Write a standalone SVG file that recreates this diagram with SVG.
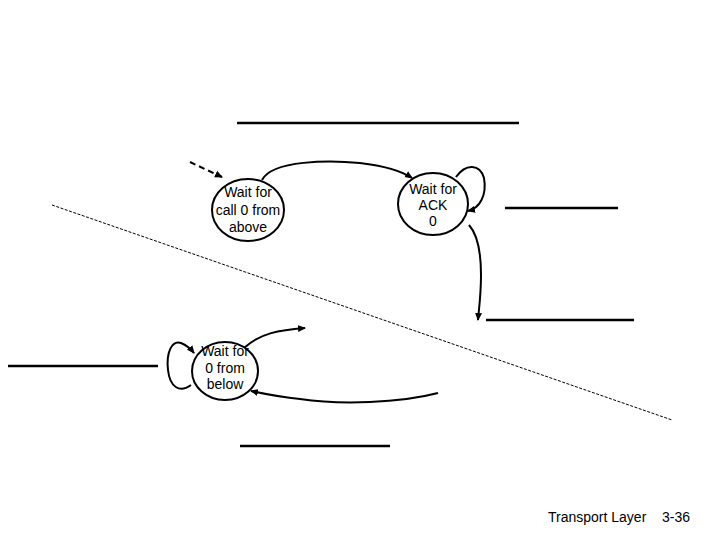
<svg xmlns="http://www.w3.org/2000/svg" width="720" height="540" viewBox="0 0 720 540">
<style>
.st{fill:#fff;stroke:#000;stroke-width:2}
.t{font-family:"Liberation Sans",Arial,sans-serif;font-size:14px;fill:#000;text-anchor:middle}
.c{fill:none;stroke:#000;stroke-width:2}
.ln{stroke:#000;stroke-width:2.6}
.f{font-family:"Liberation Sans",Arial,sans-serif;font-size:14px;fill:#000}
</style>
<defs>
<marker id="ah" markerWidth="8" markerHeight="8" refX="7" refY="4" orient="auto" markerUnits="userSpaceOnUse">
<path d="M0,0.5 L8,4 L0,7.5 Z" fill="#000"/>
</marker>
</defs>
<rect width="720" height="540" fill="#fff"/>
<g id="lines">
<line class="ln" x1="237" y1="123" x2="519" y2="123"/>
<line class="ln" x1="505" y1="208" x2="618" y2="208"/>
<line class="ln" x1="486" y1="320" x2="634" y2="320"/>
<line class="ln" x1="8" y1="366" x2="158" y2="366"/>
<line class="ln" x1="240" y1="446" x2="390" y2="446"/>
<line x1="52" y1="205" x2="672" y2="420" stroke="#000" stroke-width="1" stroke-dasharray="3,1.5"/>
</g>
<g id="connectors">
<line class="c" x1="190" y1="162" x2="222" y2="177" stroke-dasharray="6,4" marker-end="url(#ah)"/>
<path class="c" d="M262,180 C272,160 330,160 360,163 C385,166 400,170 412,178" marker-end="url(#ah)"/>
<path class="c" d="M456,177 C466,163 480,164 484,178 C487,195 480,208 468,211" marker-end="url(#ah)"/>
<path class="c" d="M469,225 C478,235 481,255 481,275 C481,295 479,308 478,320" marker-end="url(#ah)"/>
<path class="c" d="M244,348 C260,333 280,330 305,328" marker-end="url(#ah)"/>
<path class="c" d="M438,393 C400,403 340,405 300,399 C280,397 265,394 251,391" marker-end="url(#ah)"/>
<path class="c" d="M191,385 C180,393 170,388 168,370 C166,352 172,340 181,343 C186,345 190,348 194,353" marker-end="url(#ah)"/>
</g>
<g id="n1">
<ellipse class="st" cx="248" cy="210" rx="36" ry="31"/>
<text class="t" x="248" y="197">Wait for</text>
<text class="t" x="248" y="215">call 0 from</text>
<text class="t" x="248" y="232">above</text>
</g>
<g id="n2">
<ellipse class="st" cx="433" cy="204" rx="35" ry="31"/>
<text class="t" x="433" y="194">Wait for</text>
<text class="t" x="433" y="210">ACK</text>
<text class="t" x="433" y="226">0</text>
</g>
<g id="n3">
<ellipse class="st" cx="225" cy="371" rx="33" ry="29"/>
<text class="t" x="225" y="356">Wait for</text>
<text class="t" x="225" y="373">0 from</text>
<text class="t" x="225" y="389">below</text>
</g>
<text class="f" x="548" y="522">Transport Layer</text>
<text class="f" x="662" y="522">3-36</text>
</svg>
